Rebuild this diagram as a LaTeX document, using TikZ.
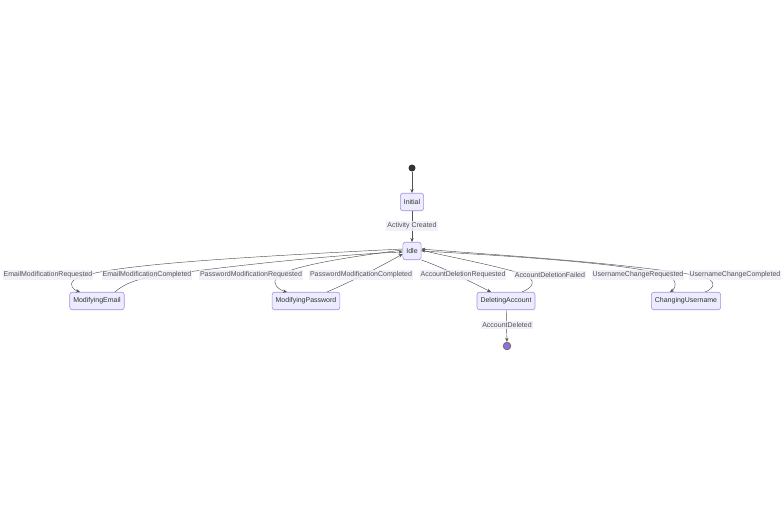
\documentclass[tikz,border=0pt]{standalone}
\usepackage{fontspec}
\setmainfont{Liberation Sans}
\usetikzlibrary{arrows.meta}

\definecolor{stfill}{HTML}{ECECFF}
\definecolor{stline}{HTML}{9370DB}
\definecolor{lnk}{HTML}{333333}
\definecolor{lblbg}{HTML}{EFEDF8}

\tikzset{
  state/.style={draw=stline!80, fill=stfill, rounded corners=2.5pt, line width=0.6pt,
    minimum height=17.5pt, inner xsep=3.5pt, text=lnk, font=\fontsize{7}{8}\selectfont},
  lbl/.style={fill=lblbg, fill opacity=0.85, text opacity=1, inner xsep=1pt, inner ysep=1.5pt,
    text=lnk!85, font=\fontsize{7}{8}\selectfont},
  edge/.style={draw=lnk!85, line width=0.45pt, -{Stealth[length=4pt,width=3.4pt]}},
}

\begin{document}
\begin{tikzpicture}[x=1pt,y=-1pt]

\useasboundingbox (0,0) rectangle (783,515);

% states
\node[circle, fill=lnk, inner sep=0, minimum size=7pt] (start) at (412,168) {};
\node[state] (init) at (412,202) {Initial};
\node[state] (idle) at (412,251) {Idle};
\node[state] (email) at (97,301) {ModifyingEmail};
\node[state] (pwd) at (306,301) {ModifyingPassword};
\node[state] (del) at (506,301) {DeletingAccount};
\node[state] (user) at (686,301) {ChangingUsername};
\node[circle, draw=lnk!70, fill=stline, line width=0.9pt, inner sep=0, minimum size=7.5pt] (stop) at (507,346) {};

% transitions
\draw[edge] (start) -- (init);
\draw[edge] (init) -- (idle);
\draw[edge] (del) -- (stop);

\draw[edge] ([yshift=2pt]idle.west) .. controls (220,258) and (95,266) .. (74,280)
  .. controls (68,285) and (74,290) .. ([xshift=-17pt]email.north);
\draw[edge] ([xshift=18pt]email.north) .. controls (122,286) and (130,281) .. (150,277)
  .. controls (250,263) and (350,254) .. ([yshift=-1pt]idle.west);

\draw[edge] ([yshift=1pt]idle.west) .. controls (340,258) and (288,267) .. (277,277)
  .. controls (271,284) and (279,290) .. ([xshift=-19pt]pwd.north);
\draw[edge] ([xshift=21pt]pwd.north) .. controls (355,280) and (385,264) .. ([yshift=-3pt]idle.west);

\draw[edge] (idle.south east) .. controls (445,268) and (475,284) .. ([xshift=-15pt]del.north);
\draw[edge] ([xshift=16pt]del.north) .. controls (532,288) and (540,280) .. (520,273)
  .. controls (480,262) and (440,255) .. ([yshift=1pt]idle.east);

\draw[edge] (idle.east) .. controls (550,258) and (660,267) .. (673,279)
  .. controls (678,286) and (673,290) .. ([xshift=-16pt]user.north);
\draw[edge] ([xshift=19pt]user.north) .. controls (713,289) and (720,281) .. (700,276)
  .. controls (620,262) and (480,254) .. ([yshift=2pt]idle.east);

% labels
\node[lbl] (lCreated) at (412,226) {Activity Created};
\node[lbl] (lEmailReq) at (48,275) {EmailModificationRequested};
\node[lbl] (lEmailDone) at (147,275) {EmailModificationCompleted};
\node[lbl] (lPwdReq) at (251,275) {PasswordModificationRequested};
\node[lbl] (lPwdDone) at (361,275) {PasswordModificationCompleted};
\node[lbl] (lDelReq) at (463,275) {AccountDeletionRequested};
\node[lbl] (lDelFail) at (550,275) {AccountDeletionFailed};
\node[lbl] (lUserReq) at (638,275) {UsernameChangeRequested};
\node[lbl] (lUserDone) at (735,275) {UsernameChangeCompleted};
\node[lbl] (lDeleted) at (507,325) {AccountDeleted};

\end{tikzpicture}
\end{document}
